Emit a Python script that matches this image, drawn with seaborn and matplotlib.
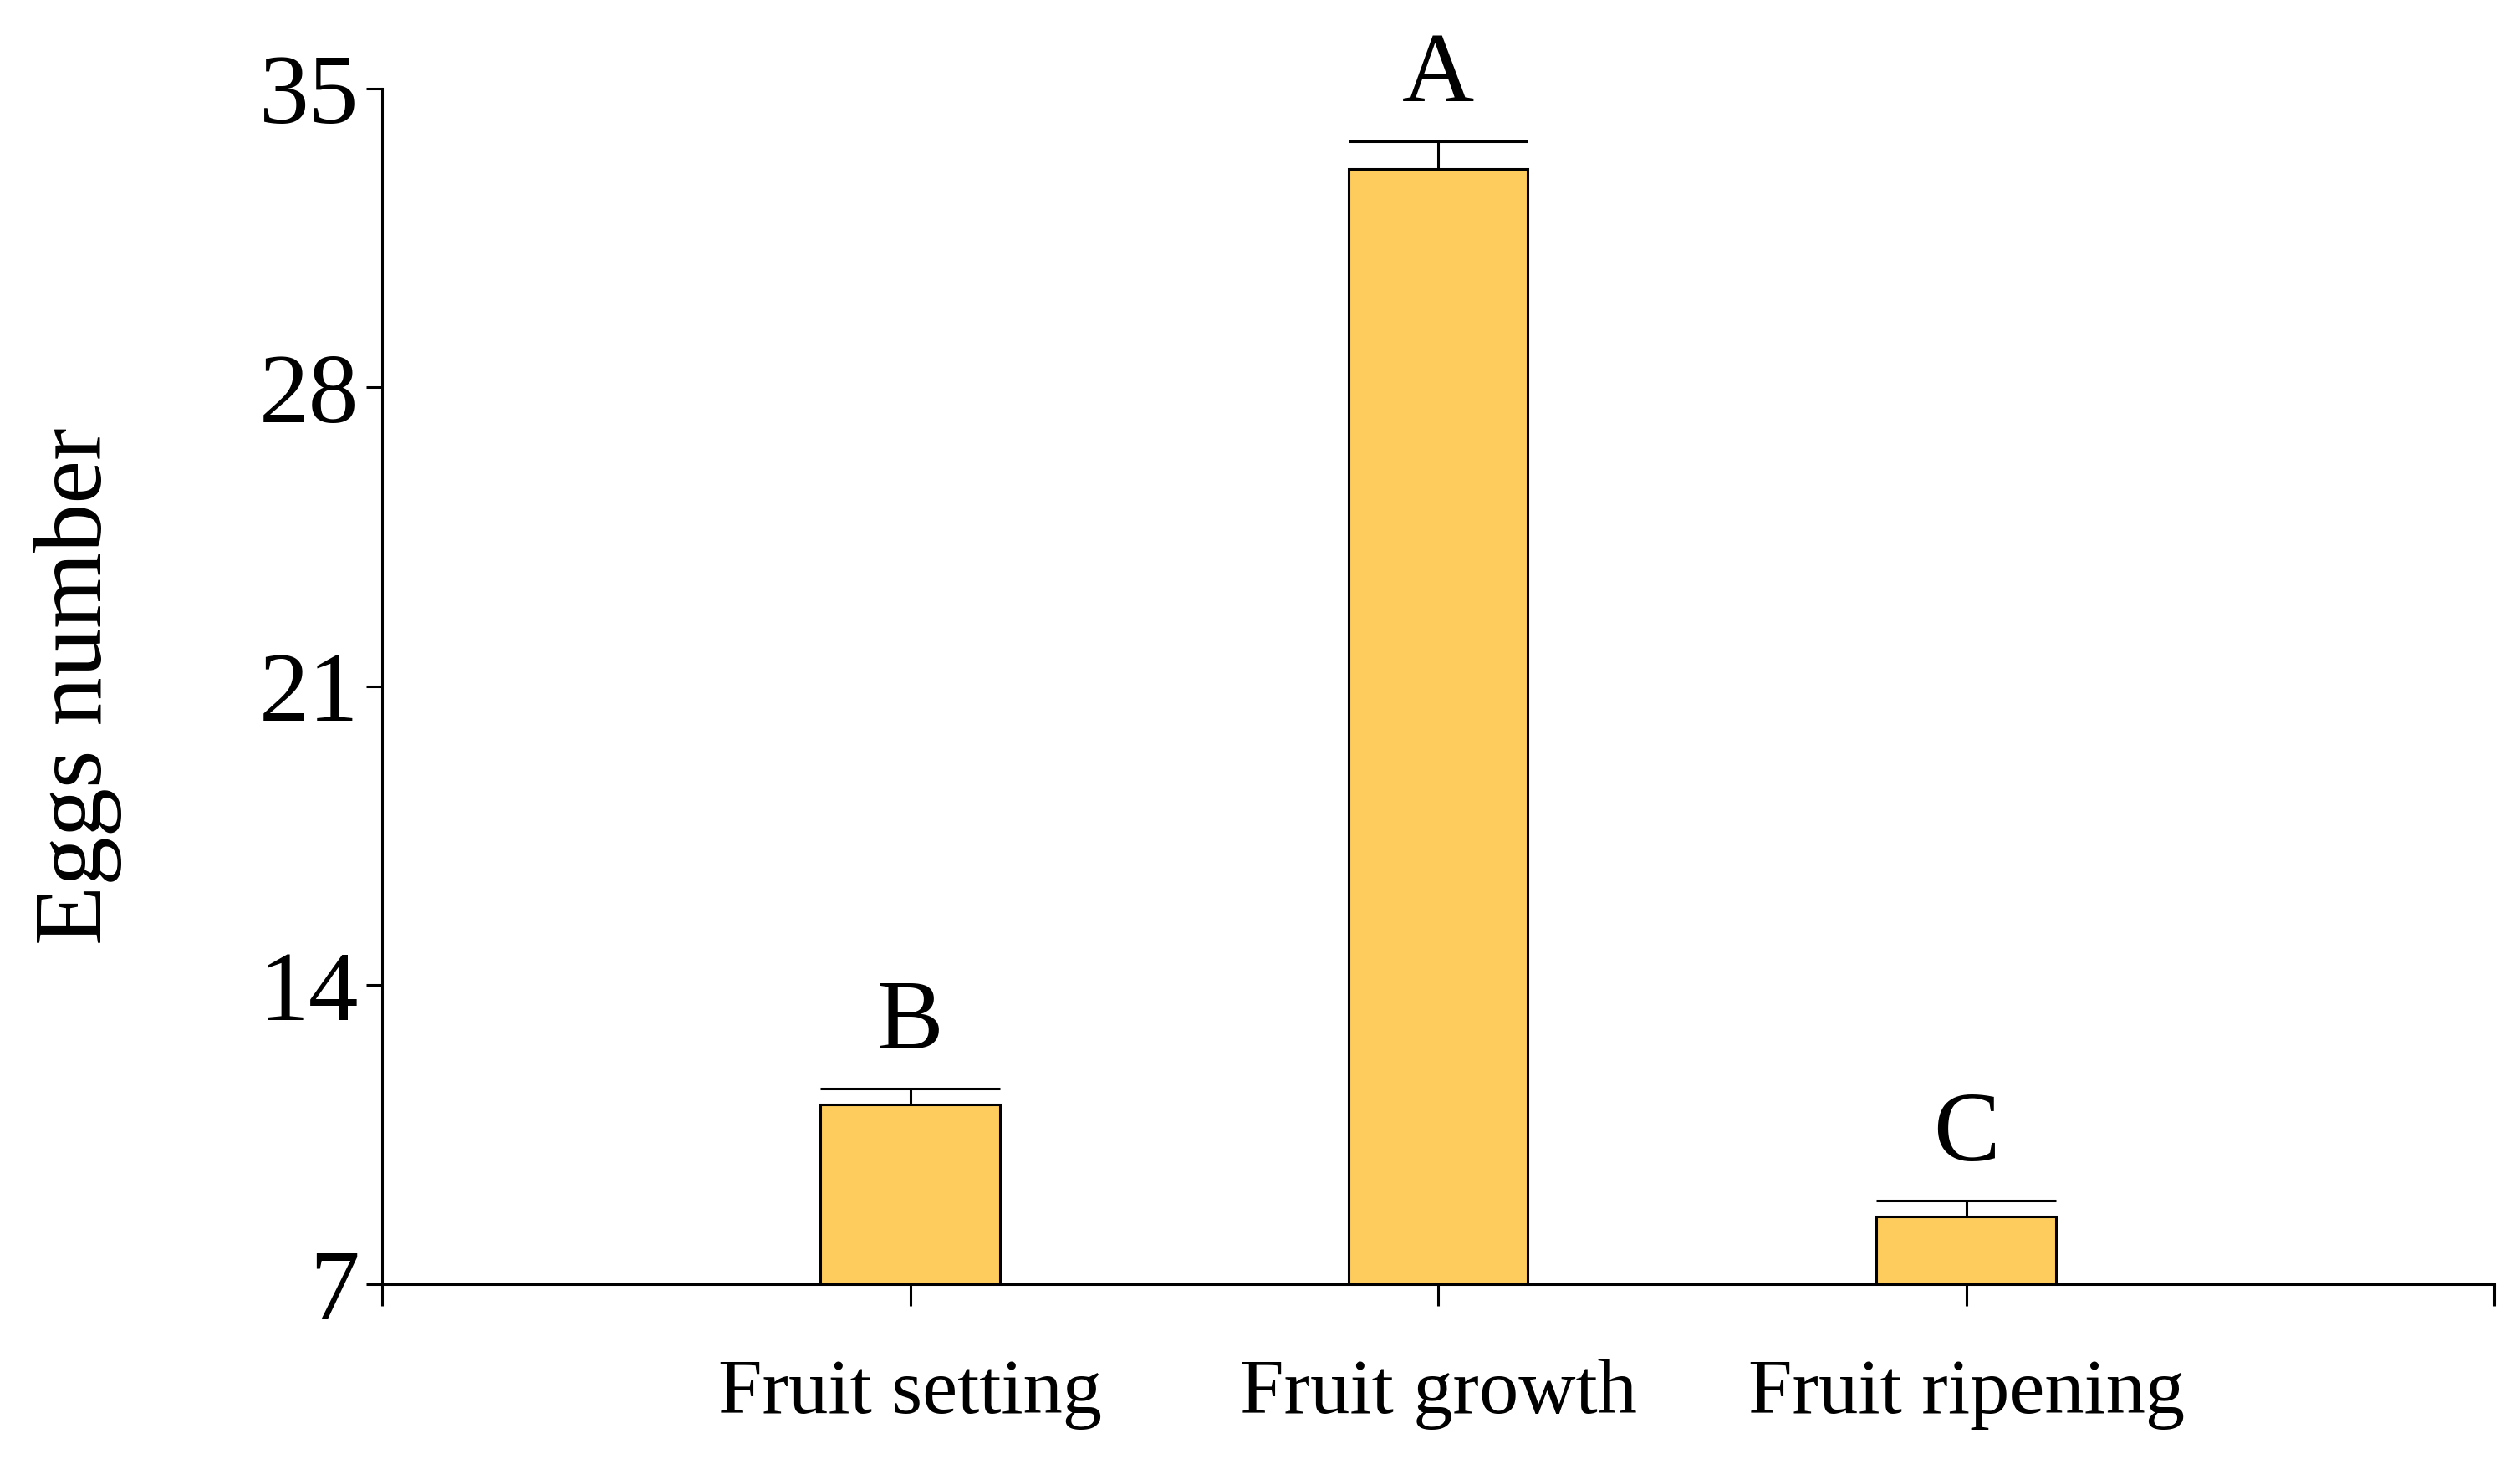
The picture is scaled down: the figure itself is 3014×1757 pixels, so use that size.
import matplotlib
matplotlib.use('Agg')
import matplotlib.pyplot as plt
import seaborn as sns
import pandas as pd

etapy = ['Fruit setting', 'Fruit growth', 'Fruit ripening']
srednie = [11.2, 33.12, 8.58]
bledy = [0.38, 0.64, 0.38]
litery = ['B', 'A', 'C']

sns.set_style('ticks')
plt.rcParams['font.family'] = ['Liberation Serif', 'DejaVu Serif']
plt.rcParams['text.color'] = 'black'
plt.rcParams['axes.labelcolor'] = 'black'
plt.rcParams['axes.edgecolor'] = 'black'
plt.rcParams['xtick.color'] = 'black'
plt.rcParams['ytick.color'] = 'black'

dane = pd.DataFrame({'etap': etapy, 'jaja': srednie})

fig = plt.figure(figsize=(30.14, 17.57), dpi=100)
ax = fig.add_axes([0.1517, 0.1258, 0.838, 0.814])

szer = 0.34
sns.barplot(x='etap', y='jaja', data=dane, color='#FECC5C', saturation=1,
            edgecolor='black', linewidth=2.2, width=szer, ax=ax, zorder=2)

# tylko gorne slupki bledow, kapturek szerokosci slupka
for i, (m, e) in enumerate(zip(srednie, bledy)):
    ax.vlines(i, m, m + e, color='black', linewidth=2.2, zorder=3)
    ax.hlines(m + e, i - szer / 2, i + szer / 2, color='black', linewidth=2.2, zorder=3)
    ax.text(i, m + e + 0.45, litery[i], ha='center', va='bottom', fontsize=86)

ax.set_xlim(-1, 3)
ax.set_xticks([-1, 0, 1, 2, 3])
ax.set_xticklabels([''] + etapy + [''], fontsize=68)
ax.set_ylim(7, 35)
ax.set_yticks([7, 14, 21, 28, 35])
ax.set_yticklabels(['7', '14', '21', '28', '35'], fontsize=86)
ax.tick_params(axis='x', length=19, width=2.2, pad=45)
ax.tick_params(axis='y', length=14, width=2.2, pad=6)

ax.set_xlabel('')
ax.set_ylabel('Eggs number', fontsize=84, labelpad=118)

for s in ['top', 'right']:
    ax.spines[s].set_visible(False)
for s in ['left', 'bottom']:
    ax.spines[s].set_linewidth(2.2)

fig.savefig('out.png', dpi=100)
